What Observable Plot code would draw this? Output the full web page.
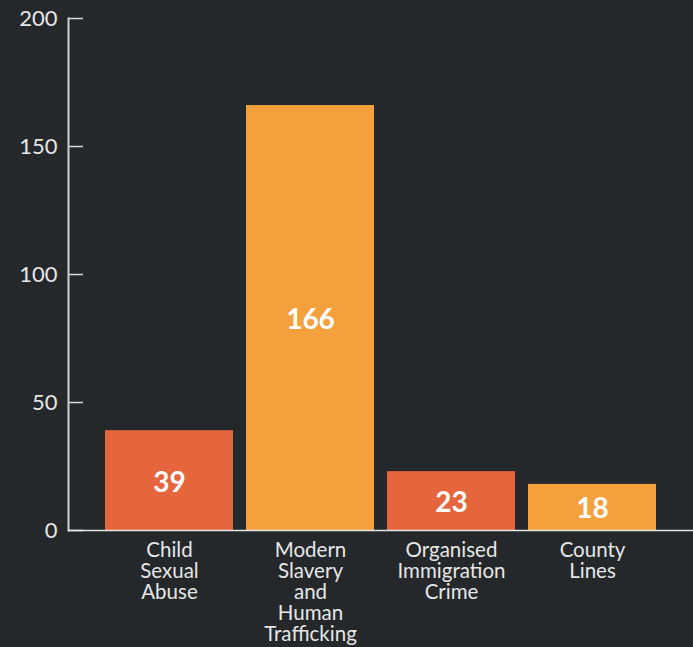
<!DOCTYPE html>
<html><head><meta charset="utf-8">
<script src="https://cdn.jsdelivr.net/npm/d3@7"></script>
<script src="https://cdn.jsdelivr.net/npm/@observablehq/plot@0.6"></script>
<style>
html,body{margin:0;padding:0;background:#24282b;overflow:hidden;}
</style></head><body><div id="chart"></div>
<script>
const categories = ["Child Sexual Abuse","Modern Slavery and Human Trafficking","Organised Immigration Crime","County Lines"];
const labels = ["Child\nSexual\nAbuse","Modern\nSlavery\nand\nHuman\nTrafficking","Organised\nImmigration\nCrime","County\nLines"];
const values = [39,166,23,18];
const colors = ["#e5653d","#f4a03d","#e5653d","#f4a03d"];
const yTicks = [0,50,100,150,200];

const data = categories.map((c,i)=>({category:c,label:labels[i],value:values[i],color:colors[i]}));

const plot = Plot.plot({
  width:693, height:647, marginTop:18, marginBottom:117, marginLeft:68, marginRight:0,
  style:{background:"#24282b", color:"#e6e6e6", fontFamily:"Lato, sans-serif"},
  x:{domain:categories, paddingInner:0.094, paddingOuter:0.26, label:null},
  y:{domain:[0,200], label:null},
  color:{type:"identity"},
  marks:[
    Plot.barY(data,{x:"category", y:"value", fill:"color"}),
    Plot.ruleY(yTicks,{insetRight:610, stroke:"#d8d8d8", strokeWidth:1.5}),
    Plot.frame({anchor:"left", stroke:"#cfcfcf", strokeWidth:2}),
    Plot.ruleY([0],{stroke:"#e6e6e6", strokeWidth:1.5}),
    Plot.axisY({ticks:yTicks, tickSize:0, tickPadding:11, fontSize:22, label:null}),
    Plot.axisX({tickSize:0, tickPadding:12, tickFormat:d=>labels[categories.indexOf(d)], fontSize:20.5, lineHeight:1.02, label:null}),
    Plot.text(data,{x:"category", y:d=>d.value/2, text:"value", fill:"white", fontSize:28, fontWeight:"bold", dy:2})
  ]
});
document.getElementById("chart").appendChild(plot);
</script></body></html>
